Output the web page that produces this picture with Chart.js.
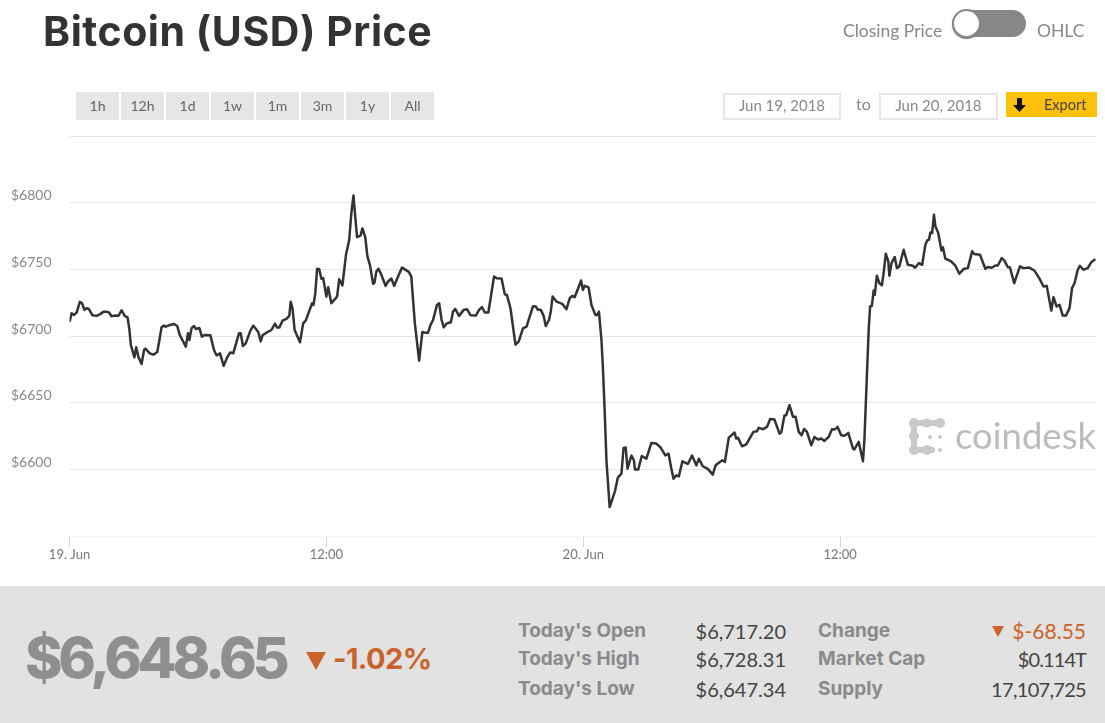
<!DOCTYPE html>
<html>
<head>
<meta charset="utf-8">
<script src="https://cdn.jsdelivr.net/npm/chart.js@4"></script>
<style>
  html, body { margin: 0; padding: 0; background: #fff; overflow: hidden; }
  body { width: 1105px; height: 723px; position: relative; font-family: Lato, sans-serif; color: #666; }
  canvas { position: absolute; left: 0; top: 0; }
  .abs { position: absolute; white-space: nowrap; }
  #title { left: 43px; top: 5px; font-family: Inter, sans-serif; font-size: 41px; line-height: 52px; font-weight: 700; color: #333; letter-spacing: 0.55px; }
  .btn { position: absolute; top: 92px; width: 43px; height: 28px; background: #e6e6e6; text-align: center; font-size: 14px; line-height: 27px; color: #666; }
  .date { position: absolute; top: 93px; height: 23px; border: 2px solid #e6e6e6; box-sizing: content-box; text-align: center; font-size: 15px; line-height: 21px; color: #888; }
  #panel { position: absolute; left: 0; top: 586px; width: 1105px; height: 137px; background: #e2e2e2; }
  .lab { position: absolute; font-family: Inter, sans-serif; font-size: 19px; line-height: 24px; font-weight: 700; color: #8a8a8a; white-space: nowrap; }
  .val { position: absolute; font-size: 20px; line-height: 24px; color: #444; text-align: right; white-space: nowrap; }
  .down { color: #c9632a; }
</style>
</head>
<body>
<canvas id="priceChart" width="1105" height="586"></canvas>

<div id="title" class="abs">Bitcoin (USD) Price</div>
<div class="abs" style="left:843px;top:20px;font-size:17.5px;line-height:22px;color:#888">Closing Price</div>
<div class="abs" style="left:953px;top:10px;width:73px;height:27px;border-radius:14px;background:#888"></div>
<div class="abs" style="left:952px;top:9px;width:25px;height:25px;border-radius:50%;background:#fff;border:2px solid #888;box-shadow:0 1px 1px #777"></div>
<div class="abs" style="left:1037px;top:20px;font-size:17.5px;line-height:22px;color:#888">OHLC</div>

<div class="btn" style="left:76px">1h</div>
<div class="btn" style="left:121px">12h</div>
<div class="btn" style="left:166px">1d</div>
<div class="btn" style="left:211px">1w</div>
<div class="btn" style="left:256px">1m</div>
<div class="btn" style="left:301px">3m</div>
<div class="btn" style="left:346px">1y</div>
<div class="btn" style="left:391px">All</div>

<div class="date" style="left:723px;width:114px">Jun 19, 2018</div>
<div class="abs" style="left:856px;top:93px;font-size:16px;line-height:22px;color:#888">to</div>
<div class="date" style="left:879px;width:115px">Jun 20, 2018</div>
<div class="abs" style="left:1006px;top:92px;width:91px;height:25px;background:#fdc00b"></div>
<svg class="abs" style="left:1012px;top:97px" width="16" height="16"><path d="M5 1h5v7h4l-6.5 7L1 8h4z" fill="#111"/></svg>
<div class="abs" style="left:1044px;top:94px;font-size:14.5px;line-height:22px;color:#444">Export</div>

<!-- watermark -->
<svg class="abs" style="left:905px;top:414px" width="45" height="44">
  <g fill="none" stroke="#c9c9c9" stroke-width="6" stroke-linecap="round">
    <path d="M9 9h27"/><path d="M9 9v27"/><path d="M9 36h18"/>
  </g>
  <g fill="#c9c9c9">
    <circle cx="9" cy="9" r="5"/><circle cx="22" cy="9" r="4.5"/><circle cx="35" cy="9" r="5"/>
    <circle cx="9" cy="22" r="5"/><circle cx="9" cy="36" r="5"/><circle cx="22" cy="36" r="5"/>
    <circle cx="25" cy="23" r="2"/><circle cx="35" cy="23" r="2"/><circle cx="35" cy="36" r="2"/>
  </g>
</svg>
<div class="abs" style="left:955px;top:413px;font-size:36.5px;line-height:44px;color:#bcbcbc">coindesk</div>

<div id="panel"></div>
<div class="abs" style="left:25px;top:621px;font-family:Inter,sans-serif;font-size:57px;line-height:74px;font-weight:800;letter-spacing:-4.3px;color:#8f8f8f">$6,648.65</div>
<svg class="abs" style="left:306px;top:652px" width="20" height="18"><path d="M0 0h20L10 18z" fill="#c9632a"/></svg>
<div class="abs down" style="left:333px;top:639px;font-family:Inter,sans-serif;font-size:29px;line-height:40px;font-weight:700;letter-spacing:-0.6px">-1.02%</div>

<div class="lab" style="left:518px;top:619px">Today's Open</div>
<div class="lab" style="left:518px;top:647px">Today's High</div>
<div class="lab" style="left:518px;top:677px">Today's Low</div>
<div class="val" style="right:319px;top:619px">$6,717.20</div>
<div class="val" style="right:319px;top:647px">$6,728.31</div>
<div class="val" style="right:319px;top:677px">$6,647.34</div>
<div class="lab" style="left:818px;top:619px">Change</div>
<div class="lab" style="left:818px;top:647px">Market Cap</div>
<div class="lab" style="left:818px;top:677px">Supply</div>
<svg class="abs" style="left:992px;top:626px" width="12" height="11"><path d="M0 0h12L6 11z" fill="#c9632a"/></svg>
<div class="val down" style="right:19px;top:619px;font-size:21px">$-68.55</div>
<div class="val" style="right:19px;top:647px;letter-spacing:-0.9px">$0.114T</div>
<div class="val" style="right:19px;top:677px;letter-spacing:-0.7px">17,107,725</div>

<script>
// minutes since 19 Jun 00:00
var minutes = [1,6,13,20,29,35,42,48,54,64,76,87,95,104,111,118,126,137,146,155,163,168,172,182,187,193,202,209,213,225,235,246,252,258,265,270,282,293,302,309,326,332,336,342,349,354,364,371,380,395,405,412,422,432,443,451,459,475,480,486,494,507,515,529,536,541,552,566,576,582,588,597,608,616,620,625,631,646,655,662,680,684,689,694,700,706,711,720,725,734,744,750,756,765,775,784,790,796,800,
  806,816,821,829,835,842,851,855,860,866,874,886,893,902,910,921,932,942,951,958,963,968,980,989,996,1005,1012,1019,1030,1036,1043,1049,1058,1069,1075,1081,1092,1105,1114,1124,1139,1148,1156,1164,1174,1190,1197,1211,1220,1226,1236,1250,1259,1271,1281,1299,1307,1313,1321,1329,1335,1344,1349,1354,1365,1381,1393,1402,1409,1416,1434,1439,1444,1455,1463,1474,1479,1484,1491,1495,1500,1505,1514,1522,1529,1537,1547,1553,1559,1564,1575,1582,1585,1594,
  1604,1617,1631,1645,1657,1670,1679,1687,1693,1701,1708,1718,1733,1745,1757,1764,1775,1789,1803,1811,1820,1830,1837,1848,1864,1869,1874,1885,1897,1917,1927,1932,1944,1955,1964,1976,1990,1995,2004,2009,2018,2028,2035,2044,2052,2059,2067,2079,2088,2098,2107,2116,2128,2137,2144,2153,2163,2172,2183,2196,2200,2212,2224,2228,
  2240,2244,2249,2254,2257,2263,2270,2277,2282,2288,2295,2298,2304,2313,2319,2326,2338,2350,2364,2370,2381,2390,2399,2404,2409,2413,2418,2423,2427,2435,2444,2448,2455,2462,2471,2483,2494,2506,2518,2530,2536,2552,2567,2574,2585,2595,2602,2613,2620,2630,2636,2648,2664,2674,2690,2705,2718,2730,2739,2752,2758,2767,2775,2784,2793,2803,2810,2817,2826,2832,2842,2854,2864,2873];

var prices = [6711.5,6717.1,6715.8,6717.6,6725.6,6724.6,6719.6,6720.8,6720.3,6715.6,6715.1,6716.6,6718.1,6718.1,6717.6,6714.8,6715.3,6715.1,6719.3,6715.1,6713.8,6704.5,6693.2,6684,6691.5,6684.5,6679,6689.5,6690.5,6687,6686,6688,6697,6706.5,6707.8,6707,6708.3,6709,6707.5,6700.8,6692,6702,6697,6705.8,6707.5,6705.3,6706,6699.5,6700.8,6700.5,6689.5,6685.5,6687,6677.7,6684.5,6687.7,6687,6702,6702,6692.5,6694.5,6704,6707.8,6703,6696,6700.5,6702.5,6704.5,6709.3,6706.3,6706.3,6711.5,6712.8,6715.1,6725.6,6720.8,6704.5,6695.3,6709.5,6711.5,6724.6,6723.3,6732.1,6750.4,6750.1,6742.9,6743.4,6729.6,6736.6,6724.6,6727.6,6729.6,6742.6,6737.9,6760.9,6772.2,6792.2,6805.3,6792.2,
  6774.2,6775.5,6780.7,6774.2,6759.7,6753.4,6739.1,6740.1,6748.4,6750.4,6745.9,6737.6,6740.9,6743.1,6737.6,6744.6,6751.4,6749.6,6748.1,6744.6,6727.1,6709.5,6681.5,6703,6702.5,6702.5,6708.3,6712,6723.3,6724.6,6712,6706.5,6709.5,6710.3,6718.3,6720.3,6715.1,6719.6,6720.1,6715.6,6715.3,6719.6,6721.6,6717.6,6717.6,6744.6,6743.4,6743.1,6731.3,6730.8,6720.8,6693.5,6695.8,6705.8,6707,6722.3,6722.1,6719.6,6719.6,6715.1,6707.5,6712,6718.3,6729.6,6725.8,6724.1,6720.1,6728.3,6730.1,6729.1,6741.6,6734.6,6737.6,6736.4,6723.3,6715.8,6715.8,6718.3,6697,6677,6644.4,6606.8,6571.7,6578,6583.7,6593.8,6596.8,6616.1,6616.3,6600.5,6610.3,6606.8,6599.8,6599.8,
  6610,6608,6619.8,6619.3,6616.3,6610.5,6611.8,6600.5,6593,6595.5,6594.7,6606,6604,6610.3,6603,6608,6602.3,6600.3,6596,6603,6605,6606.8,6605.5,6623.8,6627.6,6623.1,6623.6,6617.3,6618.8,6628.1,6628.6,6631.1,6630.1,6631.8,6637.8,6637.3,6626.8,6627.6,6640.4,6640.6,6648.1,6639.4,6639.4,6628.1,6625.6,6630.3,6628.1,6618.1,6624.3,6622.3,6623.1,6621.3,6624.3,6630.1,6629.8,6631.8,6625.6,6625.1,6627.3,6615.5,6615,6620.6,6606,6621.8,
  6704.6,6722.1,6722.6,6734.1,6730.9,6745.2,6739.6,6738.1,6747.2,6761.7,6755.9,6745.2,6754.7,6759.2,6750.9,6752.2,6764.7,6753.4,6752.7,6751.2,6754.7,6753.4,6768.5,6771.7,6772.2,6777.7,6777.2,6791,6782.3,6777.2,6764.2,6766.5,6758,6757.2,6755.9,6752.7,6746.7,6750.2,6750.9,6763.5,6761.5,6760.9,6750.4,6751.7,6751.2,6752.9,6752.9,6758.4,6756.7,6751.7,6751.4,6739.6,6752.2,6750.9,6751.4,6748.9,6743.4,6737.1,6737.6,6719.1,6729.1,6722.1,6723.4,6715.3,6715.3,6720.9,6735.9,6739.6,6749.7,6752.7,6749.7,6750.9,6755.4,6757.2];

var xTickValues = [0, 720, 1440, 2160];
var xTickLabels = ['19. Jun', '12:00', '20. Jun', '12:00'];
var yLabelled = [6600, 6650, 6700, 6750, 6800];

var points = minutes.map(function (m, i) { return { x: m, y: prices[i] }; });

var ctx = document.getElementById('priceChart').getContext('2d');
var chart = new Chart(ctx, {
  type: 'line',
  data: {
    datasets: [{
      label: 'Bitcoin (USD) Price',
      data: points,
      borderColor: '#333333',
      borderWidth: 2.5,
      borderJoinStyle: 'round',
      borderCapStyle: 'round',
      pointRadius: 0,
      tension: 0,
    }],
  },
  options: {
    responsive: false,
    animation: false,
    layout: { padding: { top: 136, right: 8, left: 0, bottom: 0 } },
    plugins: { legend: { display: false }, tooltip: { enabled: false } },
    scales: {
      x: {
        type: 'linear',
        min: 0,
        max: 2880,
        afterFit: function (s) { s.height = 50; },
        afterBuildTicks: function (s) {
          s.ticks = xTickValues.map(function (v) { return { value: v }; });
        },
        border: { display: false },
        grid: { drawOnChartArea: false, tickColor: '#ccd6eb', tickLength: 11, tickWidth: 1 },
        ticks: {
          autoSkip: false,
          maxRotation: 0,
          padding: 0,
          color: '#777',
          font: { family: 'Lato', size: 13 },
          callback: function (v) { return xTickLabels[xTickValues.indexOf(v)]; },
        },
      },
      y: {
        min: 6550,
        max: 6850,
        afterFit: function (s) { s.width = 69.5; },
        border: { display: false },
        grid: {
          drawTicks: false,
          lineWidth: 1,
          color: function (c) { return c.tick.value === 6550 ? '#f4f4f4' : '#e6e6e6'; },
        },
        ticks: {
          autoSkip: false,
          stepSize: 50,
          padding: 18,
          color: '#888',
          font: { family: 'Lato', size: 14, lineHeight: '14px' },
          // second empty line lifts the label above its grid line
          callback: function (v) { return yLabelled.indexOf(v) >= 0 ? ['$' + v, ''] : ''; },
        },
      },
    },
  },
});
</script>
</body>
</html>
